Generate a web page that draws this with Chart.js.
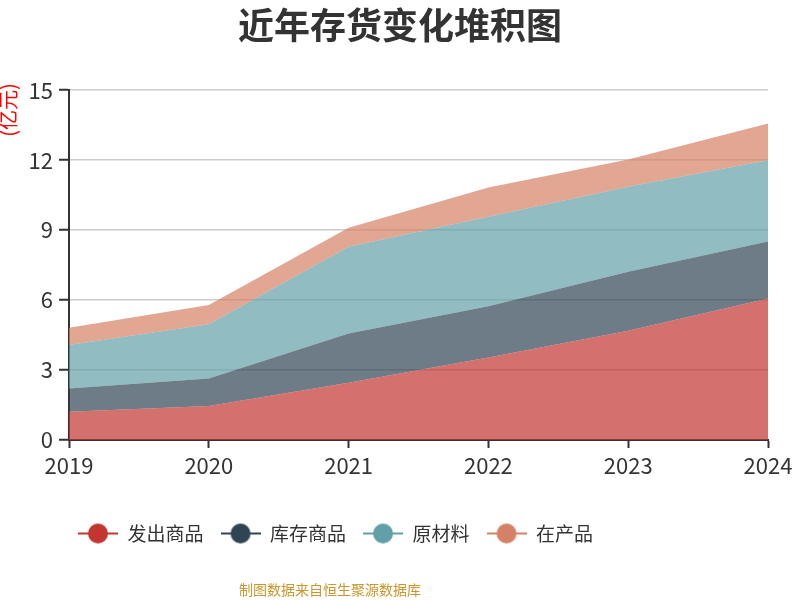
<!DOCTYPE html>
<html>
<head>
<meta charset="utf-8">
<script src="https://cdn.jsdelivr.net/npm/chart.js@4"></script>
<style>
  body { margin: 0; background: #fff; }
  #chart { display: block; }
</style>
</head>
<body>
<canvas id="chart" width="800" height="600"></canvas>
<script>
// 数据
const years = ["2019", "2020", "2021", "2022", "2023", "2024"];
const fachu = [1.21, 1.46, 2.46, 3.54, 4.69, 6.07];     // 发出商品
const kucun = [1.00, 1.18, 2.11, 2.20, 2.52, 2.44];     // 库存商品
const yuancailiao = [1.86, 2.32, 3.72, 3.83, 3.65, 3.49]; // 原材料
const zaichan = [0.74, 0.83, 0.81, 1.26, 1.17, 1.57];   // 在产品
const seriesNames = ["发出商品", "库存商品", "原材料", "在产品"];
const yTicks = [0, 3, 6, 9, 12, 15];

const colors = ["#c23531", "#2f4554", "#61a0a8", "#d48265"];
const fills = ["rgba(194,53,49,0.7)", "rgba(47,69,84,0.7)", "rgba(97,160,168,0.7)", "rgba(212,130,101,0.7)"];
const font = "'Noto Sans CJK SC', 'Noto Sans', sans-serif";

// legend icon: line + circle
function makeIcon(color) {
  const c = document.createElement("canvas");
  c.width = 40;
  c.height = 22;
  const g = c.getContext("2d");
  g.strokeStyle = color;
  g.lineWidth = 2;
  g.beginPath();
  g.moveTo(0, 11);
  g.lineTo(40, 11);
  g.stroke();
  g.fillStyle = color;
  g.beginPath();
  g.arc(20, 11, 10, 0, Math.PI * 2);
  g.fill();
  return c;
}
const icons = colors.map(makeIcon);

const extras = {
  id: "extras",
  beforeDraw(chart) {
    chart.legend.left = 61;
    chart.titleBlock.right = 800;
  },
  afterDraw(chart) {
    const ctx = chart.ctx;
    ctx.save();
    ctx.fillStyle = "#c9962b";
    ctx.font = "14px " + font;
    ctx.textAlign = "center";
    ctx.textBaseline = "middle";
    ctx.fillText("制图数据来自恒生聚源数据库", 330, 590);
    ctx.translate(8, 110);
    ctx.rotate(-Math.PI / 2);
    ctx.fillStyle = "#ff0000";
    ctx.font = "20px " + font;
    ctx.fillText("(亿元)", 0, 0);
    ctx.restore();
  }
};

const allSeries = [fachu, kucun, yuancailiao, zaichan];

new Chart(document.getElementById("chart"), {
  type: "line",
  data: {
    labels: years,
    datasets: allSeries.map((d, i) => ({
      label: seriesNames[i],
      data: d,
      backgroundColor: fills[i],
      borderColor: fills[i],
      borderWidth: 0,
      pointRadius: 0,
      tension: 0,
      fill: i === 0 ? "origin" : "-1",
    })),
  },
  options: {
    responsive: false,
    animation: false,
    layout: { padding: { left: 0, right: 32, top: 0, bottom: 47 } },
    plugins: {
      title: {
        display: true,
        text: "近年存货变化堆积图",
        color: "#333",
        font: { family: font, size: 36, weight: "bold" },
        padding: { top: 4, bottom: 43 },
      },
      legend: {
        position: "bottom",
        align: "start",
        labels: {
          usePointStyle: true,
          pointStyleWidth: 40,
          boxHeight: 19,
          padding: 17,
          color: "#333",
          font: { family: font, size: 19 },
          generateLabels: (chart) =>
            chart.data.datasets.map((ds, i) => ({
              text: ds.label,
              pointStyle: icons[i],
              fillStyle: colors[i],
              strokeStyle: colors[i],
              lineWidth: 0,
              fontColor: "#333",
              datasetIndex: i,
              hidden: false,
            })),
        },
      },
      tooltip: { enabled: false },
    },
    scales: {
      x: {
        offset: false,
        afterFit: (s) => { s.height = 67; },
        grid: {
          drawOnChartArea: false,
          drawTicks: true,
          tickLength: 8,
          tickColor: "#333",
          tickWidth: 2,
        },
        border: { color: "#333", width: 2 },
        ticks: {
          color: "#333",
          font: { family: font, size: 22 },
          padding: 4,
          maxRotation: 0,
          autoSkip: false,
        },
      },
      y: {
        stacked: true,
        min: 0,
        max: 15,
        afterFit: (s) => { s.width = 69; },
        afterBuildTicks: (s) => { s.ticks = yTicks.map((v) => ({ value: v })); },
        grid: {
          color: "#ccc",
          lineWidth: 1.5,
          tickLength: 10,
          tickColor: "#333",
          tickWidth: 2,
        },
        border: { color: "#333", width: 2 },
        ticks: {
          color: "#333",
          font: { family: font, size: 22 },
          padding: 6,
        },
      },
    },
  },
  plugins: [extras],
});
</script>
</body>
</html>
